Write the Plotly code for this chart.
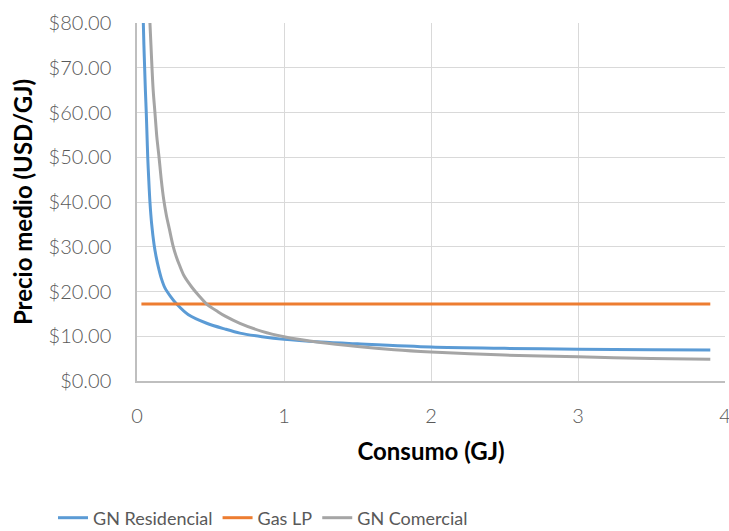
import plotly.graph_objects as go

# Data
res_x = [0.043, 0.047, 0.052, 0.057, 0.063, 0.068, 0.073, 0.08, 0.088, 0.1, 0.116, 0.13, 0.145, 0.165,
         0.19, 0.23, 0.27, 0.35, 0.474, 0.6, 0.7, 0.85, 1.0, 1.25, 1.5, 2.0, 2.5, 3.0, 3.5, 3.9]
res_y = [80, 75, 70, 65, 60, 55, 50, 45, 40, 35, 30.5, 27.8, 25.5, 23,
         20.8, 18.8, 17.2, 14.8, 12.9, 11.6, 10.7, 9.9, 9.3, 8.7, 8.3, 7.6, 7.3, 7.1, 7.0, 6.9]

lp_x = [0.03, 3.9]
lp_y = [17.2, 17.2]

com_x = [0.088, 0.095, 0.102, 0.11, 0.122, 0.135, 0.15, 0.165, 0.182, 0.2, 0.22, 0.243, 0.265, 0.29,
         0.32, 0.372, 0.42, 0.474, 0.55, 0.6, 0.7, 0.85, 1.0, 1.25, 1.5, 1.75, 2.0, 2.5, 3.0, 3.5, 3.9]
com_y = [80, 75, 70, 65, 60, 54.5, 50, 45, 40.5, 37, 34, 30.5, 28, 25.8,
         23.5, 21, 19.1, 17.2, 15.5, 14.5, 12.9, 11.1, 9.9, 8.6, 7.7, 7.0, 6.5, 5.8, 5.4, 5.05, 4.85]

y_ticks = [0, 10, 20, 30, 40, 50, 60, 70, 80]
y_tick_labels = ["$%.2f" % v for v in y_ticks]
x_ticks = [0, 1, 2, 3, 4]

FONT = "Lato"
TICK_FONT = dict(family=FONT, size=20, color="#595959", weight=300)
fig = go.Figure()
fig.add_trace(go.Scatter(x=res_x, y=res_y, mode="lines", name="GN Residencial",
                         line=dict(color="#5B9BD5", width=3, shape="spline", smoothing=0.8)))
fig.add_trace(go.Scatter(x=lp_x, y=lp_y, mode="lines", name="Gas LP",
                         line=dict(color="#ED7D31", width=3)))
fig.add_trace(go.Scatter(x=com_x, y=com_y, mode="lines", name="GN Comercial",
                         line=dict(color="#A5A5A5", width=3, shape="spline", smoothing=0.8)))

fig.update_layout(
    width=729, height=531,
    margin=dict(l=137, r=4, t=23, b=150, autoexpand=False),
    paper_bgcolor="white", plot_bgcolor="white",
    font=dict(family=FONT, color="#595959"),
    showlegend=True,
    legend=dict(orientation="h", x=(53 - 137) / 588, xanchor="left",
                y=(381 - 518) / 358, yanchor="middle",
                font=dict(family=FONT, size=18, color="#595959", weight=400),
                tracegroupgap=0),
)
fig.update_xaxes(range=[0, 4], tickvals=x_ticks, ticktext=[str(v) for v in x_ticks],
                 showgrid=True, gridcolor="#D9D9D9", gridwidth=1.3,
                 showline=True, linecolor="#BFBFBF", linewidth=1.5,
                 zeroline=False, ticks="", ticklabelstandoff=16, ticklabeloverflow="allow",
                 automargin=False, tickfont=TICK_FONT,
                 title=dict(text="<b>Consumo (GJ)</b>", standoff=17,
                            font=dict(family=FONT, size=24, color="#000000")))
fig.update_yaxes(range=[0, 80], tickvals=y_ticks, ticktext=y_tick_labels,
                 showgrid=True, gridcolor="#D9D9D9", gridwidth=1.3,
                 showline=True, linecolor="#BFBFBF", linewidth=1.5,
                 zeroline=False, ticks="", ticklabelstandoff=20,
                 automargin=False, tickfont=TICK_FONT,
                 title=dict(text="<b>Precio medio (USD/GJ)</b>", standoff=9,
                            font=dict(family=FONT, size=24, color="#000000")))

fig.write_html("out.html")
